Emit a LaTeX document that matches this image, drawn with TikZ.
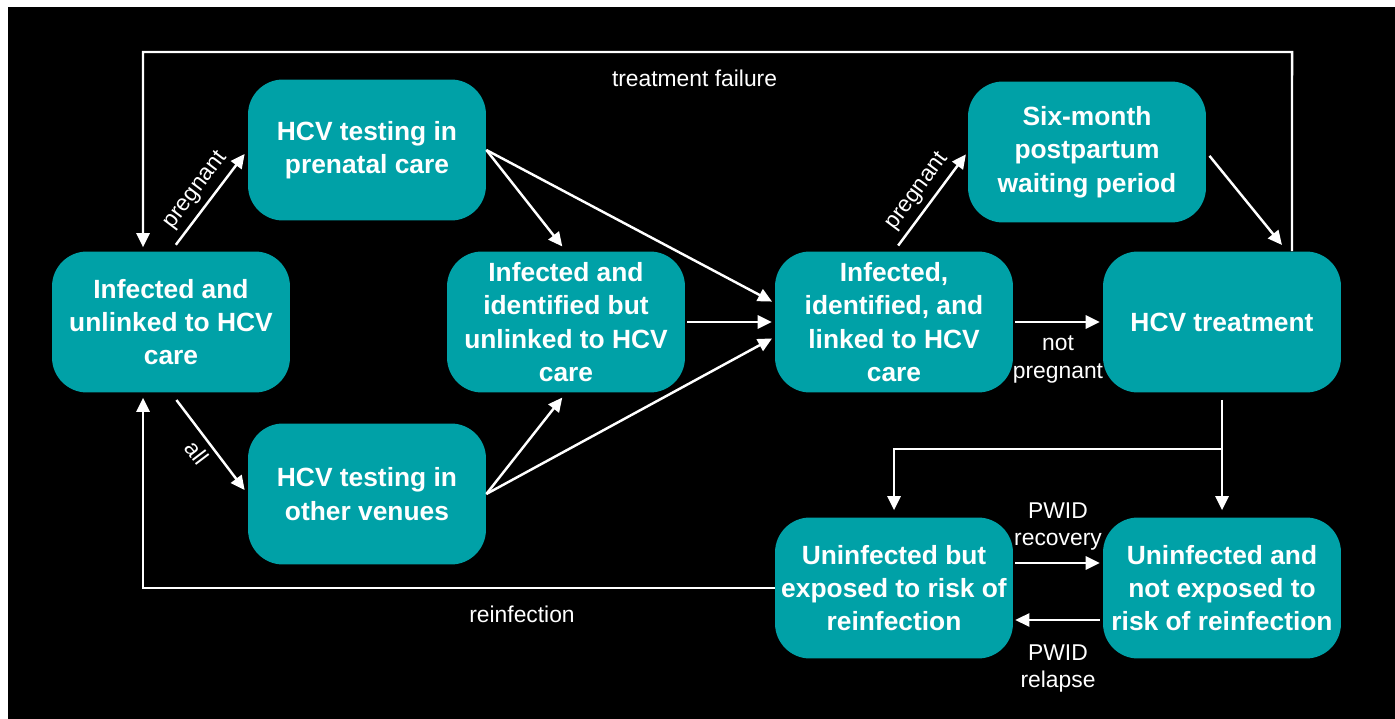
\documentclass[tikz,border=0pt]{standalone}
\usepackage{fontspec}
\setmainfont{Liberation Sans}
\usetikzlibrary{arrows.meta,positioning}
\definecolor{hcvteal}{RGB}{0,161,167}

\begin{document}
\begin{tikzpicture}[x=0.02cm,y=-0.02cm]
    \tikzstyle{every node}=[text=white];
    \tikzstyle{box}=[fill=hcvteal,rounded corners=0.7cm,minimum width=4.76cm,minimum height=2.82cm,align=center,inner sep=2pt,font=\fontsize{15}{19}\selectfont\bfseries];
    \tikzstyle{lbl}=[align=center,font=\fontsize{13}{15.5}\selectfont];
    \tikzstyle{flow}=[white,line width=1.4pt,-{Triangle[length=8pt,width=7.5pt]}];

    \fill[white] (0,0) rectangle (1395,719);
    \fill[black] (8,7) rectangle (1395,719);

    \node[box] (infunl) at (171,322) {Infected and\\unlinked to HCV\\care};
    \node[box] (testpre) at (367,150) {HCV testing in\\prenatal care};
    \node[box] (testoth) at (367,494) {HCV testing in\\other venues};
    \node[box] (infid) at (566,322) {Infected and\\identified but\\unlinked to HCV\\care};
    \node[box] (inflink) at (894,322) {Infected,\\identified, and\\linked to HCV\\care};
    \node[box] (waiting) at (1087,152) {Six-month\\postpartum\\waiting period};
    \node[box] (treat) at (1222,322) {HCV treatment};
    \node[box] (uninfexp) at (894,588) {Uninfected but\\exposed to risk of\\reinfection};
    \node[box] (uninfnot) at (1222,588) {Uninfected and\\not exposed to\\risk of reinfection};

    \coordinate (failr) at (1292,52);
    \coordinate (faill) at (143,52);
    \coordinate (branch) at (1222,449);

    \draw[flow,shorten <=0.16cm,shorten >=0.1cm] (infunl.north) -- node[lbl,midway,sloped,above] {pregnant} (testpre.west);
    \draw[flow,shorten <=0.18cm,shorten >=0.1cm] (infunl.south) -- node[lbl,midway,sloped,below] {all} (testoth.west);

    \draw[flow,shorten >=0.12cm] (testpre.east) -- (infid.north);
    \draw[flow,shorten >=0.06cm] (testpre.east) -- ([yshift=0.38cm]inflink.west);
    \draw[flow,shorten >=0.12cm] (testoth.east) -- (infid.south);
    \draw[flow,shorten >=0.06cm] (testoth.east) -- ([yshift=-0.3cm]inflink.west);
    \draw[flow,shorten <=0.04cm,shorten >=0.06cm] (infid.east) -- (inflink.west);

    \draw[flow,shorten <=0.14cm,shorten >=0.06cm] (inflink.north) -- node[lbl,midway,sloped,above] {pregnant} (waiting.west);
    \draw[flow,shorten <=0.1cm,shorten >=0.16cm] (waiting.east) -- ([xshift=1.3cm]treat.north);
    \draw[flow,shorten <=0.04cm,shorten >=0.06cm] (inflink.east) -- node[lbl,midway,below=4pt] {not\\pregnant} (treat.west);

    \draw[flow,shorten >=0.08cm] ([xshift=1.4cm]treat.north) -- (failr) -- node[lbl,pos=0.52,below=6pt] {treatment failure} (faill) -- ([xshift=-0.56cm]infunl.north);
    \draw[flow,shorten >=0.1cm] (uninfexp.west) -| node[lbl,pos=0.2,below=6pt] {reinfection} ([xshift=-0.56cm]infunl.south);

    \draw[flow,shorten <=0.14cm,shorten >=0.14cm] (treat.south) -- (uninfnot.north);
    \draw[flow,shorten >=0.14cm] (branch) -| (uninfexp.north);

    \draw[flow,shorten <=0.04cm,shorten >=0.06cm] ([yshift=0.5cm]uninfexp.east) -- node[lbl,midway,above=3pt] {PWID\\recovery} ([yshift=0.5cm]uninfnot.west);
    \draw[flow,shorten <=0.06cm,shorten >=0.04cm] ([yshift=-0.64cm]uninfnot.west) -- node[lbl,midway,below=10pt] {PWID\\relapse} ([yshift=-0.64cm]uninfexp.east);
\end{tikzpicture}
\end{document}
